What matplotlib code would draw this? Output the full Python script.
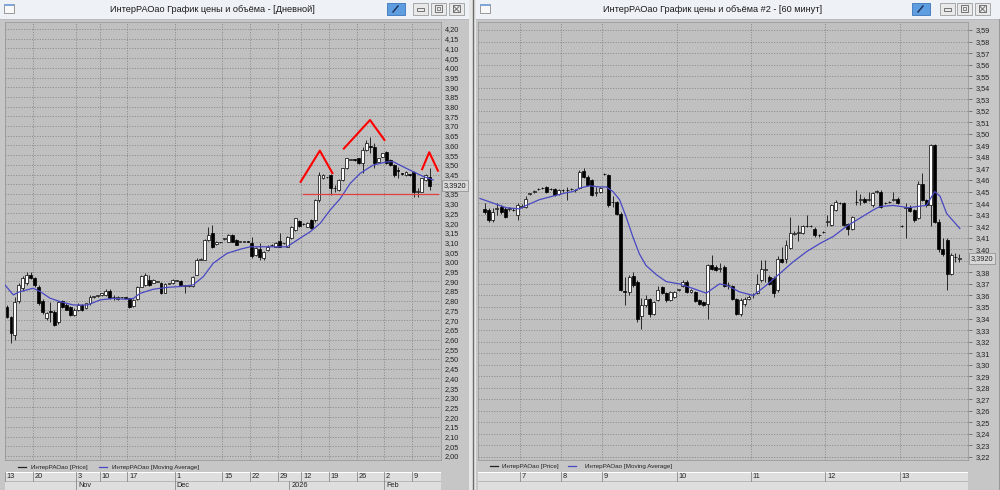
import numpy as np
import matplotlib
matplotlib.use("Agg")
import matplotlib.pyplot as plt
from matplotlib.patches import Rectangle

plt.rcParams['font.family'] = ['Liberation Sans', 'DejaVu Sans']

# ================= DATA : daily panel =================
d_open = [2.770, 2.718, 2.624, 2.800, 2.864, 2.890, 2.933, 2.915, 2.873, 2.800,
          2.710, 2.745, 2.743, 2.690, 2.800, 2.780, 2.770, 2.727, 2.753, 2.780,
          2.760, 2.787, 2.820, 2.826, 2.830, 2.830, 2.852, 2.817, 2.809, 2.818,
          2.817, 2.812, 2.773, 2.810, 2.873, 2.880, 2.907, 2.893, 2.898, 2.890,
          2.842, 2.888, 2.890, 2.904, 2.904, 2.876, 2.876, 2.876, 2.933, 3.010,
          3.010, 3.113, 3.147, 3.090, 3.100, 3.118, 3.104, 3.139, 3.113, 3.104,
          3.104, 3.105, 3.099, 3.036, 3.065, 3.018, 3.061, 3.085, 3.079, 3.109,
          3.095, 3.079, 3.121, 3.164, 3.212, 3.194, 3.182, 3.216, 3.216, 3.319,
          3.431, 3.435, 3.448, 3.380, 3.370, 3.422, 3.482, 3.527, 3.526, 3.533,
          3.508, 3.576, 3.595, 3.594, 3.516, 3.542, 3.568, 3.525, 3.499, 3.471,
          3.454, 3.448, 3.449, 3.465, 3.362, 3.362, 3.422, 3.439]
d_high = [2.780, 2.722, 2.820, 2.890, 2.925, 2.950, 2.950, 2.920, 2.880, 2.810,
          2.740, 2.795, 2.750, 2.800, 2.805, 2.790, 2.775, 2.760, 2.790, 2.785,
          2.790, 2.830, 2.825, 2.832, 2.842, 2.860, 2.860, 2.830, 2.822, 2.820,
          2.819, 2.815, 2.810, 2.875, 2.930, 2.945, 2.930, 2.910, 2.902, 2.895,
          2.890, 2.893, 2.910, 2.907, 2.906, 2.880, 2.878, 2.928, 3.020, 3.020,
          3.118, 3.180, 3.190, 3.106, 3.103, 3.125, 3.142, 3.142, 3.116, 3.110,
          3.107, 3.108, 3.130, 3.075, 3.096, 3.056, 3.085, 3.090, 3.100, 3.147,
          3.099, 3.133, 3.185, 3.228, 3.215, 3.198, 3.205, 3.220, 3.325, 3.465,
          3.451, 3.439, 3.451, 3.396, 3.425, 3.485, 3.536, 3.531, 3.528, 3.536,
          3.594, 3.628, 3.645, 3.611, 3.536, 3.562, 3.571, 3.528, 3.502, 3.491,
          3.457, 3.468, 3.452, 3.468, 3.379, 3.434, 3.451, 3.482]
d_low = [2.710, 2.581, 2.600, 2.790, 2.850, 2.880, 2.910, 2.870, 2.780, 2.730,
         2.700, 2.690, 2.670, 2.680, 2.765, 2.750, 2.720, 2.720, 2.745, 2.745,
         2.755, 2.780, 2.815, 2.820, 2.825, 2.825, 2.810, 2.805, 2.805, 2.815,
         2.814, 2.765, 2.770, 2.805, 2.870, 2.875, 2.875, 2.890, 2.895, 2.835,
         2.840, 2.886, 2.888, 2.901, 2.878, 2.840, 2.873, 2.873, 2.930, 3.008,
         3.008, 3.110, 3.070, 3.088, 3.097, 3.112, 3.100, 3.100, 3.085, 3.100,
         3.101, 3.100, 3.018, 3.030, 3.010, 3.010, 3.058, 3.083, 3.077, 3.075,
         3.093, 3.077, 3.118, 3.160, 3.182, 3.192, 3.180, 3.170, 3.207, 3.310,
         3.428, 3.433, 3.345, 3.362, 3.367, 3.419, 3.479, 3.525, 3.522, 3.505,
         3.456, 3.573, 3.559, 3.482, 3.513, 3.539, 3.505, 3.496, 3.439, 3.431,
         3.450, 3.445, 3.445, 3.336, 3.336, 3.359, 3.419, 3.370]
d_close = [2.715, 2.632, 2.795, 2.880, 2.915, 2.930, 2.916, 2.880, 2.787, 2.740,
           2.735, 2.742, 2.675, 2.795, 2.770, 2.753, 2.727, 2.753, 2.780, 2.753,
           2.787, 2.820, 2.822, 2.829, 2.838, 2.852, 2.812, 2.818, 2.818, 2.818,
           2.816, 2.770, 2.804, 2.873, 2.927, 2.930, 2.880, 2.907, 2.900, 2.838,
           2.886, 2.890, 2.907, 2.904, 2.880, 2.876, 2.876, 2.924, 3.010, 3.015,
           3.113, 3.139, 3.079, 3.104, 3.101, 3.120, 3.139, 3.104, 3.087, 3.104,
           3.104, 3.104, 3.030, 3.070, 3.027, 3.053, 3.079, 3.087, 3.096, 3.079,
           3.096, 3.130, 3.182, 3.224, 3.185, 3.195, 3.202, 3.173, 3.319, 3.448,
           3.448, 3.436, 3.379, 3.379, 3.422, 3.482, 3.533, 3.528, 3.525, 3.508,
           3.576, 3.611, 3.594, 3.508, 3.533, 3.559, 3.508, 3.499, 3.448, 3.470,
           3.453, 3.465, 3.448, 3.362, 3.363, 3.431, 3.448, 3.392]
# moving average: candle index, value
d_ma_idx = [-0.5, 1.6, 3.3, 6.6, 8.4, 10.9, 13.5, 16.8, 20.3, 23.6, 26.9, 30.4, 32.0,
            33.7, 37.0, 40.6, 43.8, 47.1, 49.7, 52.2, 55.7, 59.0, 61.6, 66.6, 70.9,
            73.5, 76.8, 79.3, 81.8, 84.4, 86.9, 89.4, 92.7, 96.3, 97.8, 100.3, 102.8,
            105.4, 107.9]
d_ma_val = [2.881, 2.830, 2.847, 2.864, 2.847, 2.813, 2.795, 2.778, 2.778, 2.804, 2.812,
            2.807, 2.812, 2.838, 2.859, 2.869, 2.873, 2.881, 2.924, 2.993, 3.044, 3.065,
            3.078, 3.078, 3.078, 3.113, 3.156, 3.199, 3.267, 3.327, 3.405, 3.456, 3.499,
            3.516, 3.516, 3.490, 3.465, 3.440, 3.422]
d_last = 3.392
d_day_idx = [0, 7, 18, 24, 31, 43, 55, 62, 69, 75, 82, 89, 96, 103]
d_day_lbl = ['13', '20', '3', '10', '17', '1', '15', '22', '29', '12', '19', '26', '2', '9']
d_mon_idx = [18, 43, 72, 96]
d_mon_lbl = ['Nov', 'Dec', '2026', 'Feb']
# hand-drawn head & shoulders annotation (index, price)
ls_idx, ls_val = [74.2, 79.2, 82.5], [3.408, 3.573, 3.453]
hd_idx, hd_val = [85.1, 91.9, 95.7], [3.580, 3.731, 3.624]
rs_idx, rs_val = [105.0, 106.9, 109.2], [3.473, 3.565, 3.465]
neck_idx, neck_val = [74.9, 109.2], [3.350, 3.350]

# ================= DATA : 60-minute panel =================
h_open = [3.435, 3.434, 3.425, 3.435, 3.437, 3.435, 3.435, 3.434, 3.430, 3.437,
          3.437, 3.448, 3.450, 3.452, 3.453, 3.454, 3.452, 3.452, 3.448, 3.451,
          3.451, 3.452, 3.451, 3.453, 3.468, 3.463, 3.460, 3.449, 3.450, 3.465,
          3.464, 3.441, 3.441, 3.431, 3.364, 3.363, 3.377, 3.372, 3.342, 3.352,
          3.357, 3.344, 3.356, 3.367, 3.362, 3.356, 3.359, 3.365, 3.368, 3.372,
          3.363, 3.363, 3.356, 3.354, 3.353, 3.386, 3.385, 3.383, 3.385, 3.369,
          3.368, 3.357, 3.344, 3.353, 3.357, 3.360, 3.362, 3.373, 3.382, 3.376,
          3.375, 3.365, 3.392, 3.392, 3.401, 3.413, 3.414, 3.414, 3.420, 3.420,
          3.418, 3.412, 3.415, 3.424, 3.421, 3.434, 3.440, 3.440, 3.422, 3.418,
          3.441, 3.443, 3.444, 3.443, 3.438, 3.450, 3.450, 3.440, 3.441, 3.443,
          3.444, 3.420, 3.436, 3.437, 3.434, 3.427, 3.457, 3.443, 3.438, 3.490,
          3.424, 3.400, 3.408, 3.379, 3.393, 3.392]
h_high = [3.440, 3.436, 3.436, 3.440, 3.438, 3.437, 3.437, 3.436, 3.440, 3.439,
          3.446, 3.449, 3.451, 3.453, 3.454, 3.455, 3.453, 3.453, 3.452, 3.452,
          3.454, 3.453, 3.452, 3.469, 3.470, 3.464, 3.461, 3.454, 3.454, 3.466,
          3.465, 3.446, 3.442, 3.432, 3.376, 3.378, 3.380, 3.373, 3.358, 3.360,
          3.358, 3.355, 3.368, 3.368, 3.363, 3.364, 3.364, 3.366, 3.373, 3.373,
          3.366, 3.364, 3.357, 3.355, 3.387, 3.395, 3.386, 3.388, 3.386, 3.372,
          3.369, 3.358, 3.358, 3.359, 3.360, 3.362, 3.379, 3.391, 3.391, 3.378,
          3.377, 3.394, 3.402, 3.408, 3.428, 3.416, 3.421, 3.421, 3.430, 3.421,
          3.419, 3.413, 3.416, 3.430, 3.439, 3.443, 3.441, 3.441, 3.423, 3.429,
          3.451, 3.448, 3.445, 3.450, 3.450, 3.451, 3.451, 3.441, 3.442, 3.450,
          3.445, 3.421, 3.440, 3.438, 3.435, 3.459, 3.466, 3.444, 3.491, 3.491,
          3.426, 3.410, 3.410, 3.397, 3.397, 3.396]
h_low = [3.431, 3.424, 3.424, 3.430, 3.431, 3.427, 3.433, 3.433, 3.425, 3.436,
         3.436, 3.447, 3.449, 3.451, 3.452, 3.449, 3.451, 3.446, 3.447, 3.450,
         3.443, 3.451, 3.450, 3.452, 3.462, 3.455, 3.446, 3.446, 3.449, 3.464,
         3.437, 3.437, 3.430, 3.364, 3.352, 3.360, 3.367, 3.337, 3.331, 3.350,
         3.341, 3.343, 3.355, 3.361, 3.354, 3.355, 3.358, 3.364, 3.367, 3.362,
         3.362, 3.354, 3.352, 3.351, 3.340, 3.382, 3.381, 3.380, 3.367, 3.366,
         3.356, 3.343, 3.342, 3.351, 3.356, 3.358, 3.361, 3.372, 3.372, 3.369,
         3.359, 3.363, 3.388, 3.388, 3.400, 3.412, 3.407, 3.413, 3.419, 3.419,
         3.411, 3.411, 3.414, 3.420, 3.420, 3.433, 3.439, 3.420, 3.412, 3.417,
         3.438, 3.438, 3.440, 3.442, 3.437, 3.449, 3.436, 3.439, 3.440, 3.442,
         3.439, 3.419, 3.410, 3.432, 3.424, 3.426, 3.442, 3.437, 3.420, 3.423,
         3.398, 3.394, 3.365, 3.378, 3.389, 3.389]
h_close = [3.432, 3.425, 3.432, 3.436, 3.432, 3.428, 3.435, 3.434, 3.438, 3.437,
           3.444, 3.448, 3.450, 3.452, 3.453, 3.450, 3.452, 3.447, 3.451, 3.451,
           3.451, 3.452, 3.451, 3.467, 3.463, 3.456, 3.447, 3.449, 3.453, 3.465,
           3.438, 3.441, 3.431, 3.365, 3.363, 3.376, 3.369, 3.340, 3.352, 3.357,
           3.344, 3.354, 3.365, 3.362, 3.356, 3.363, 3.363, 3.365, 3.372, 3.363,
           3.365, 3.355, 3.353, 3.352, 3.386, 3.383, 3.382, 3.383, 3.368, 3.369,
           3.357, 3.344, 3.356, 3.357, 3.359, 3.360, 3.370, 3.383, 3.383, 3.370,
           3.362, 3.392, 3.389, 3.404, 3.414, 3.414, 3.415, 3.420, 3.420, 3.420,
           3.412, 3.412, 3.415, 3.424, 3.438, 3.441, 3.440, 3.421, 3.418, 3.428,
           3.441, 3.443, 3.441, 3.443, 3.449, 3.450, 3.437, 3.440, 3.441, 3.443,
           3.440, 3.420, 3.436, 3.433, 3.425, 3.457, 3.443, 3.438, 3.490, 3.424,
           3.400, 3.396, 3.379, 3.395, 3.393, 3.392]
h_ma_idx = [-1.1, 2.1, 5.3, 8.5, 10.1, 13.3, 16.5, 19.8, 21.4, 23.0, 25.4, 27.9, 29.5,
            31.1, 32.7, 34.3, 35.9, 37.5, 39.1, 41.6, 44.0, 47.2, 50.5, 53.7, 55.3,
            56.9, 58.5, 60.2, 61.8, 65.1, 68.3, 71.5, 74.7, 78.0, 81.2, 84.4, 87.7,
            90.9, 94.1, 95.7, 98.9, 101.0, 102.6, 104.6, 107.0, 109.0, 110.3, 111.9, 115.1]
h_ma_val = [3.444, 3.440, 3.436, 3.435, 3.438, 3.443, 3.446, 3.449, 3.450, 3.453,
            3.455, 3.454, 3.454, 3.450, 3.443, 3.428, 3.411, 3.396, 3.386, 3.378,
            3.372, 3.370, 3.366, 3.362, 3.366, 3.370, 3.369, 3.366, 3.363, 3.360,
            3.369, 3.379, 3.389, 3.398, 3.405, 3.411, 3.420, 3.427, 3.434, 3.437,
            3.438, 3.437, 3.436, 3.437, 3.438, 3.450, 3.446, 3.431, 3.418]
h_last = 3.392
h_day_idx = [9, 19, 29, 47, 65, 83, 101]
h_day_lbl = ['7', '8', '9', '10', '11', '12', '13']

# ================= FIGURE =================
W, H = 1000.0, 490.0
fig = plt.figure(figsize=(10, 4.9), dpi=100)
fig.patch.set_facecolor('#d6d6d6')


def px_axes(x0, y0, x1, y1, **kw):
    return fig.add_axes([x0 / W, 1 - y1 / H, (x1 - x0) / W, (y1 - y0) / H], **kw)


bg = px_axes(0, 0, W, H)
bg.set_xlim(0, W)
bg.set_ylim(H, 0)
bg.axis('off')


def rect(x, y, w, h, fc, ec='none', lw=0.0, z=1):
    bg.add_patch(Rectangle((x, y), w, h, facecolor=fc, edgecolor=ec, linewidth=lw, zorder=z))


def window(x0, x1, title, tcx, blue_x, btn_xs):
    rect(x0, 0, x1 - x0, H, '#c6c6c6')
    rect(x0, 0, x1 - x0, 19, '#eef1f5')
    bg.plot([x0, x1], [19, 19], color='#b8b8b8', lw=0.6, zorder=2)
    bg.text(tcx, 10, title, ha='center', va='center', fontsize=6.6, color='#1a1a1a', zorder=3)
    rect(x0 + 4, 4, 10, 9, '#f8f8f8', '#8a8a8a', 0.6, 3)
    rect(x0 + 4, 4, 10, 2.5, '#7fa6d6', 'none', 0, 3)
    rect(blue_x, 3, 18, 12, '#5e9ee0', '#3a74b8', 0.6, 3)
    bg.plot([blue_x + 6, blue_x + 11], [12, 6], color='#1c2e55', lw=1.0, zorder=4)
    for k, bx in enumerate(btn_xs):
        rect(bx, 3, 15, 12, '#e9e9e9', '#9c9c9c', 0.6, 3)
        if k == 0:
            rect(bx + 4, 8, 7, 3, 'none', '#606060', 0.6, 4)
        elif k == 1:
            rect(bx + 4, 5.5, 7, 7, 'none', '#606060', 0.6, 4)
            rect(bx + 6, 7.5, 3, 3, 'none', '#606060', 0.5, 4)
        else:
            rect(bx + 4, 5.5, 7, 7, 'none', '#606060', 0.6, 4)
            bg.plot([bx + 5, bx + 10], [6.5, 11.5], color='#606060', lw=0.6, zorder=4)
            bg.plot([bx + 5, bx + 10], [11.5, 6.5], color='#606060', lw=0.6, zorder=4)


window(0, 469, 'ИнтерРАОао График цены и объёма - [Дневной]', 212, 387, [413, 431, 449])
window(476, 1000, 'ИнтерРАОао График цены и объёма #2 - [60 минут]', 713, 912, [940, 957, 975])
rect(469, 0, 7, H, '#e6e6e6', z=2)
bg.plot([472.5, 472.5], [0, H], color='#6a6a6a', lw=1.0, zorder=3)
bg.plot([998.5, 998.5], [19, H], color='#9a9a9a', lw=0.8, zorder=3)


def fmt(v, nd):
    return f"{v:.{nd}f}".replace('.', ',')


def draw_candles(ax, o, h, l, c, width, min_h):
    o, h, l, c = (np.asarray(a, float) for a in (o, h, l, c))
    x = np.arange(len(o))
    ax.vlines(x, l, h, color='black', lw=0.55, zorder=4)
    up = c >= o
    lo = np.minimum(o, c)
    hgt = np.maximum(np.abs(c - o), min_h)
    ax.bar(x[up], hgt[up], width, bottom=lo[up], facecolor='white',
           edgecolor='black', linewidth=0.5, zorder=5)
    ax.bar(x[~up], hgt[~up], width, bottom=lo[~up], facecolor='black',
           edgecolor='black', linewidth=0.5, zorder=5)


def price_panel(px0, px1, xlim, ylim, yt, nd, tick_len, o, h, l, c, min_h,
                ma_i, ma_v, last, hidden, seps):
    ax = px_axes(px0, 22, px1, 460)
    ax.set_facecolor('#c0c0c0')
    ax.set_xlim(*xlim)
    ax.set_ylim(*ylim)
    for s in ax.spines.values():
        s.set_color('#9a9a9a')
        s.set_linewidth(0.6)
    ax.set_xticks([])
    ax.yaxis.tick_right()
    ax.set_yticks(yt)
    # the label under the last-price box is covered in the original
    ax.set_yticklabels(['' if abs(v - hidden) < 1e-9 else fmt(v, nd) for v in yt])
    ax.tick_params(axis='y', length=tick_len, width=0.5, color='#555555', pad=2.5,
                   labelsize=5.3, labelcolor='#222222')
    for v in yt:
        ax.axhline(v, color='#777777', lw=0.5, ls=(0, (1.6, 2.2)), zorder=1)
    for s in seps:
        ax.axvline(s, color='#777777', lw=0.5, ls=(0, (1.6, 2.2)), zorder=1)
    draw_candles(ax, o, h, l, c, 0.72, min_h)
    ax.plot(ma_i, ma_v, color='#4848c4', lw=0.9, zorder=6)
    ax.text(1.006, last, fmt(last, 4), transform=ax.get_yaxis_transform(),
            ha='left', va='center', fontsize=5.3, color='#222222', zorder=20,
            clip_on=False,
            bbox=dict(boxstyle='square,pad=0.25', fc='#d8d8d8', ec='#8a8a8a', lw=0.5))
    return ax


# ---- left (daily) ----
d_x0, d_sp = 7.0, 3.95
d_xlim = ((5 - d_x0) / d_sp, (441 - d_x0) / d_sp)
d_ylim = (2.00 - 4 / 194.1, 2.00 + 434 / 194.1)
d_yt = np.round(np.arange(2.00, 4.2001, 0.05), 2)
d_seps = [i - 0.5 for i in d_day_idx]
axL = price_panel(5, 441, d_xlim, d_ylim, d_yt, 2, 0, d_open, d_high, d_low, d_close,
                  0.003, d_ma_idx, d_ma_val, d_last, 3.40, d_seps)
for xs, ys in ((ls_idx, ls_val), (hd_idx, hd_val), (rs_idx, rs_val)):
    axL.plot(xs, ys, color='#ff0000', lw=1.5, zorder=7, solid_capstyle='butt')
axL.plot(neck_idx, neck_val, color='#e04040', lw=0.9, zorder=7)

# ---- right (hourly) ----
h_x0, h_sp = 484.5, 4.13
h_xlim = ((478 - h_x0) / h_sp, (968 - h_x0) / h_sp)
h_ylim = (3.22 - 3 / 1154, 3.22 + 435 / 1154)
h_yt = np.round(np.arange(3.22, 3.5901, 0.01), 2)
h_seps = [i - 0.5 for i in h_day_idx]
axR = price_panel(478, 968, h_xlim, h_ylim, h_yt, 2, 3, h_open, h_high, h_low, h_close,
                  0.0004, h_ma_idx, h_ma_val, h_last, 3.39, h_seps)

# ---- legends ----
for lx, ly, x_txt1, bx, x_txt2 in ((18, 467, 31, 99, 112), (490, 466, 502, 568, 585)):
    bg.plot([lx, lx + 8], [ly, ly], color='#222222', lw=0.9, zorder=3)
    bg.text(x_txt1, ly, 'ИнтерРАОао [Price]', fontsize=4.5, va='center', ha='left',
            color='#222222', zorder=3)
    bg.plot([bx, bx + 8], [ly, ly], color='#4848c4', lw=0.9, zorder=3)
    bg.text(x_txt2, ly, 'ИнтерРАОао [Moving Average]', fontsize=4.5, va='center',
            ha='left', color='#222222', zorder=3)


# ---- date strips ----
def date_strip(px0, px1, xlim, day_idx, day_lbl, mon_idx, mon_lbl, off):
    ax = px_axes(px0, 472, px1, 490)
    ax.set_facecolor('#dedede')
    ax.set_xlim(*xlim)
    ax.set_ylim(0, 2)
    ax.set_xticks([])
    ax.set_yticks([])
    for s in ax.spines.values():
        s.set_visible(False)
    ax.axhline(2, color='white', lw=1.5)
    ax.axhline(1, color='#a8a8a8', lw=0.5)
    for i, lbl in zip(day_idx, day_lbl):
        ax.plot([i - 0.5, i - 0.5], [1, 2], color='#8a8a8a', lw=0.6)
        ax.text(i - 0.5 + off, 1.5, lbl, fontsize=5.3, va='center', ha='left', color='#222222')
    for i, lbl in zip(mon_idx, mon_lbl):
        ax.plot([i - 0.5, i - 0.5], [0, 1], color='#8a8a8a', lw=0.6)
        ax.text(i - 0.5 + off, 0.5, lbl, fontsize=5.3, va='center', ha='left', color='#222222')
    return ax


date_strip(5, 441, d_xlim, d_day_idx, d_day_lbl, d_mon_idx, d_mon_lbl, 0.45)
date_strip(478, 968, h_xlim, h_day_idx, h_day_lbl, [], [], 0.45)

fig.savefig('out.png', dpi=100, facecolor=fig.get_facecolor())
